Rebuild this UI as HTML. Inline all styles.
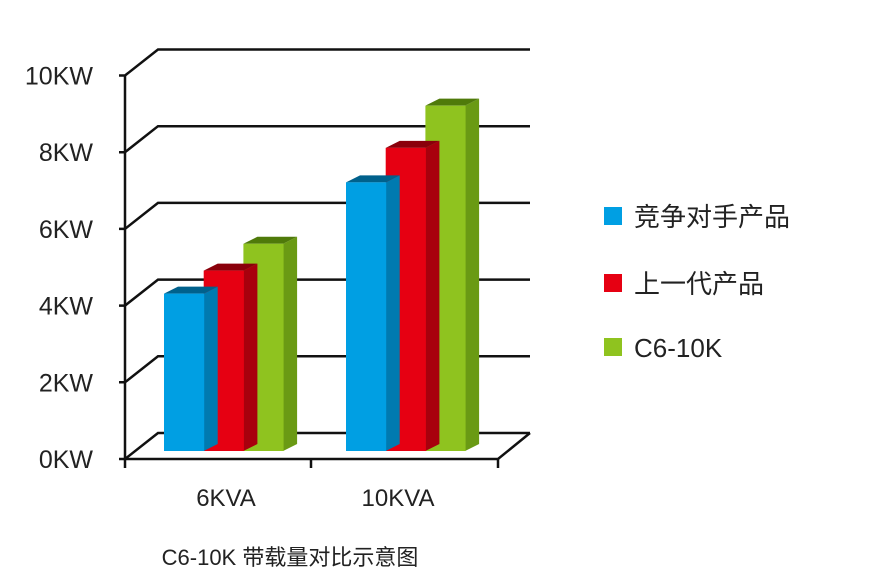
<!DOCTYPE html>
<html><head><meta charset="utf-8"><style>
body{margin:0;background:#fff;}
svg{display:block;font-family:"Liberation Sans","Noto Sans CJK SC",sans-serif;}
</style></head><body>
<svg id="chart" width="888" height="587" viewBox="0 0 888 587" xmlns="http://www.w3.org/2000/svg">
<g id="grid"></g>
<g id="bars"></g>
<g id="labels"></g>
<g>
  <rect x="604" y="207" width="18" height="18" fill="#009fe3"/>
  <text x="634" y="226" font-size="26" fill="#222">竞争对手产品</text>
  <rect x="604" y="274" width="18" height="18" fill="#e60012"/>
  <text x="634" y="293" font-size="26" fill="#222">上一代产品</text>
  <rect x="604" y="338" width="18" height="18" fill="#8fc31f"/>
  <text x="634" y="357" font-size="26" fill="#222">C6-10K</text>
</g>
<text x="290" y="565" text-anchor="middle" font-size="22" fill="#222">C6-10K 带载量对比示意图</text>
</svg>
<script>
const categories = ["6KVA", "10KVA"];
const seriesNames = ["竞争对手产品", "上一代产品", "C6-10K"];
const competitor = [4.0, 6.9];
const previous = [4.6, 7.8];
const c6 = [5.3, 8.9];
const yTicks = [0, 2, 4, 6, 8, 10];
const yTickLabels = ["0KW", "2KW", "4KW", "6KW", "8KW", "10KW"];

const NS = "http://www.w3.org/2000/svg";
const DX = 33, DY = 26;
const X0 = 125, X1 = 498, FRONT0 = 459, UNIT = 38.35;
function yFront(v){ return FRONT0 - v * UNIT; }
function yBar(v){ return 447 - v * UNIT; }
const groupStart = [164, 346], barW = 39.7;
function xBar(ci, si){ return groupStart[ci] + si * barW; }
function mk(tag, attrs, parent){ const e = document.createElementNS(NS, tag); for (const k in attrs) e.setAttribute(k, attrs[k]); parent.appendChild(e); return e; }

const gridG = document.getElementById('grid');
const labelsG = document.getElementById('labels');
const st = {stroke:"#111","stroke-width":"2.5",fill:"none"};
yTicks.forEach((t, i) => {
  const yf = yFront(t);
  const p = mk('polyline', Object.assign({points:`${X0-6},${yf} ${X0},${yf} ${X0+DX},${yf-DY} 530,${yf-DY}`}, st), gridG);
  
  
  const tx = mk('text', {x:93, y:yf+9, "text-anchor":"end", "font-size":"25", fill:"#222"}, labelsG);
  tx.textContent = yTickLabels[i];
  
  
});
const ax = mk('polyline', Object.assign({points:`${X0},${yFront(yTicks[yTicks.length-1])} ${X0},${FRONT0} ${X1},${FRONT0} 530,${FRONT0-DY}`}, st), gridG);


[X0, 311, X1].forEach(x => {
  const l = mk('line', {x1:x, y1:FRONT0, x2:x, y2:FRONT0+9, stroke:"#111","stroke-width":"2.5"}, gridG);
  
  
});
[226, 398].forEach((x, i) => {
  const t = mk('text', {x:x, y:506, "text-anchor":"middle", "font-size":"24", fill:"#222"}, labelsG);
  t.textContent = categories[i];
  
  
});

const barsG = document.getElementById('bars');
const seriesList = [competitor, previous, c6];
const frontCol = ["#009fe3", "#e60012", "#8fc31f"];
const topCol = ["#00618c", "#8a000b", "#4f7a0a"];
const sideCol = ["#007ab0", "#a8000d", "#6a9a14"];
const bdx = 14, bdy = 7, base = 451;
categories.forEach((c, ci) => {
  for (let si = seriesList.length - 1; si >= 0; si--) {
    const x = xBar(ci, si), yt = yBar(seriesList[si][ci]);
    const g = mk('g', {}, barsG);
    
    
    mk('polygon', {points:`${x+barW},${yt} ${x+barW+bdx},${yt-bdy} ${x+barW+bdx},${base-bdy} ${x+barW},${base}`, fill:sideCol[si]}, g);
    mk('polygon', {points:`${x},${yt} ${x+bdx},${yt-bdy} ${x+barW+bdx},${yt-bdy} ${x+barW},${yt}`, fill:topCol[si]}, g);
    mk('rect', {x:x, y:yt, width:barW+0.5, height:base-yt, fill:frontCol[si]}, g);
  }
});
</script>
</body></html>
